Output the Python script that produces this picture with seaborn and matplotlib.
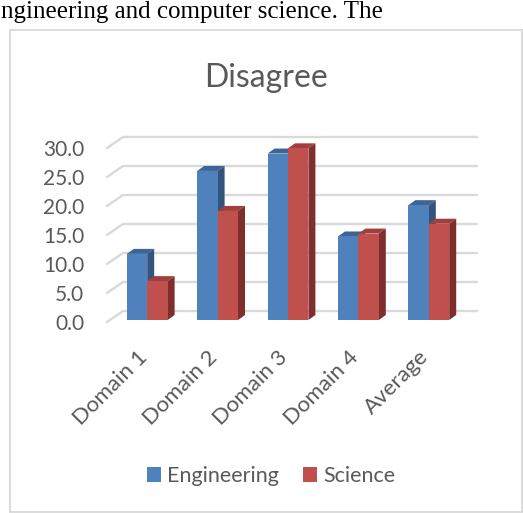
import matplotlib
matplotlib.use("Agg")
import matplotlib.pyplot as plt
import matplotlib.patches as mpatches
from matplotlib.lines import Line2D
from matplotlib.transforms import IdentityTransform, Affine2D
import numpy as np
import pandas as pd
import seaborn as sns

# ---- data ----
categories = ["Domain 1", "Domain 2", "Domain 3", "Domain 4", "Average"]
engineering = [11.4, 25.7, 28.7, 14.4, 19.8]
science = [6.7, 18.8, 29.6, 14.9, 16.6]
series_names = ["Engineering", "Science"]
y_ticks = [0, 5, 10, 15, 20, 25, 30]
y_tick_labels = [f"{v:.1f}" for v in y_ticks]

front_colors = ["#4F81BD", "#C0504D"]
top_colors = ["#3D6596", "#A23F3C"]
side_colors = ["#33547D", "#7E2E2C"]

df = pd.DataFrame({
    "category": categories * 2,
    "value": engineering + science,
    "series": [series_names[0]] * len(categories) + [series_names[1]] * len(categories),
})

sns.set_theme(style="white")
plt.rcParams["font.family"] = ["Lato", "DejaVu Sans"]
text_gray = "#595959"
grid_gray = "#D9D9D9"

W, H = 523, 513
fig = plt.figure(figsize=(W / 100, H / 100), dpi=100)
fig.patch.set_facecolor("white")

# plot plane (pixel geometry of the bar plane)
ax_left, ax_right, ax_bottom, ax_top = 112, 464, 320, 146
ax = fig.add_axes([ax_left / W, (H - ax_bottom) / H,
                   (ax_right - ax_left) / W, (ax_bottom - ax_top) / H])

sns.barplot(data=df, x="category", y="value", hue="series", order=categories,
            hue_order=series_names, palette=front_colors, width=0.58,
            saturation=1, ax=ax, legend=False, linewidth=0, zorder=2)
ax.set_xlim(-0.5, len(categories) - 0.5)
ax.set_ylim(0, 30)
ax.patch.set_alpha(0)
for s in ax.spines.values():
    s.set_visible(False)
ax.set_xlabel("")
ax.set_ylabel("")

ax.set_yticks(y_ticks)
ax.set_yticklabels(y_tick_labels)
ax.tick_params(axis="y", length=0, pad=20, labelsize=15, labelcolor=text_gray)
for lab in ax.get_yticklabels():
    lab.set_transform(lab.get_transform() + Affine2D().translate(0, -2))

# category labels, rotated, ending just below each category centre
ax.set_xticks(range(len(categories)))
ax.set_xticklabels([])
ax.tick_params(axis="x", length=0)
cat_trans = ax.get_xaxis_transform() + Affine2D().translate(1, -38)
for i, cat in enumerate(categories):
    ax.text(i, 0, cat, transform=cat_trans, rotation=45, rotation_mode="anchor",
            ha="right", va="baseline", fontsize=16, color=text_gray, clip_on=False)

# ---- back wall and side wall gridlines ----
front_off = np.array([-5, -2])
back_off_l = np.array([11, 9])
back_off_r = np.array([13, 9])
for v in y_ticks:
    pl = ax.transData.transform((-0.5, v))
    pr = ax.transData.transform((len(categories) - 0.5, v))
    f = pl + front_off
    bl = pl + back_off_l
    br = pr + back_off_r
    ax.add_artist(Line2D([f[0], bl[0], br[0]], [f[1], bl[1], br[1]],
                         transform=IdentityTransform(), color=grid_gray,
                         lw=1.7, zorder=0.5, clip_on=False))

# ---- 3D faces of the bars ----
depth = np.array([7, 5])
n = len(categories)
for i, bar in enumerate(ax.patches[:2 * n]):
    k = i // n
    x0, w, h = bar.get_x(), bar.get_width(), bar.get_height()
    p10 = ax.transData.transform((x0 + w, 0))
    p01 = ax.transData.transform((x0, h))
    p11 = ax.transData.transform((x0 + w, h))
    top = [p01, p11, p11 + depth, p01 + depth]
    side = [p10, p11, p11 + depth, p10 + depth]
    z = 2 + k
    for pts, col in ((top, top_colors[k]), (side, side_colors[k])):
        ax.add_artist(mpatches.Polygon(pts, closed=True, transform=IdentityTransform(),
                                       facecolor=col, edgecolor="none", zorder=z,
                                       clip_on=False))
    bar.set_zorder(z + 0.1)

# ---- title, legend, frame ----
fig.text(266 / W, 1 - 87 / H, "Disagree", ha="center", va="baseline",
         fontsize=23, color=text_gray)

handles = [mpatches.Patch(facecolor=c, edgecolor="none", label=s)
           for c, s in zip(front_colors, series_names)]
fig.legend(handles=handles, loc="center", bbox_to_anchor=(271 / W, 1 - 476 / H),
           ncol=2, frameon=False, fontsize=15.5, handlelength=0.65, handleheight=0.65,
           handletextpad=0.3, columnspacing=1.1, labelcolor=text_gray)

fig.add_artist(mpatches.Rectangle((10 / W, 1 - 512 / H), 512 / W, 482 / H,
                                  transform=fig.transFigure, facecolor="none",
                                  edgecolor=grid_gray, lw=1.3, zorder=0))

fig.text(0.002, 1 - 18 / H, "ngineering and computer science. The",
         ha="left", va="baseline", fontsize=18, color="black",
         family=["Liberation Serif", "DejaVu Serif"])

fig.savefig("out.png", dpi=100)
